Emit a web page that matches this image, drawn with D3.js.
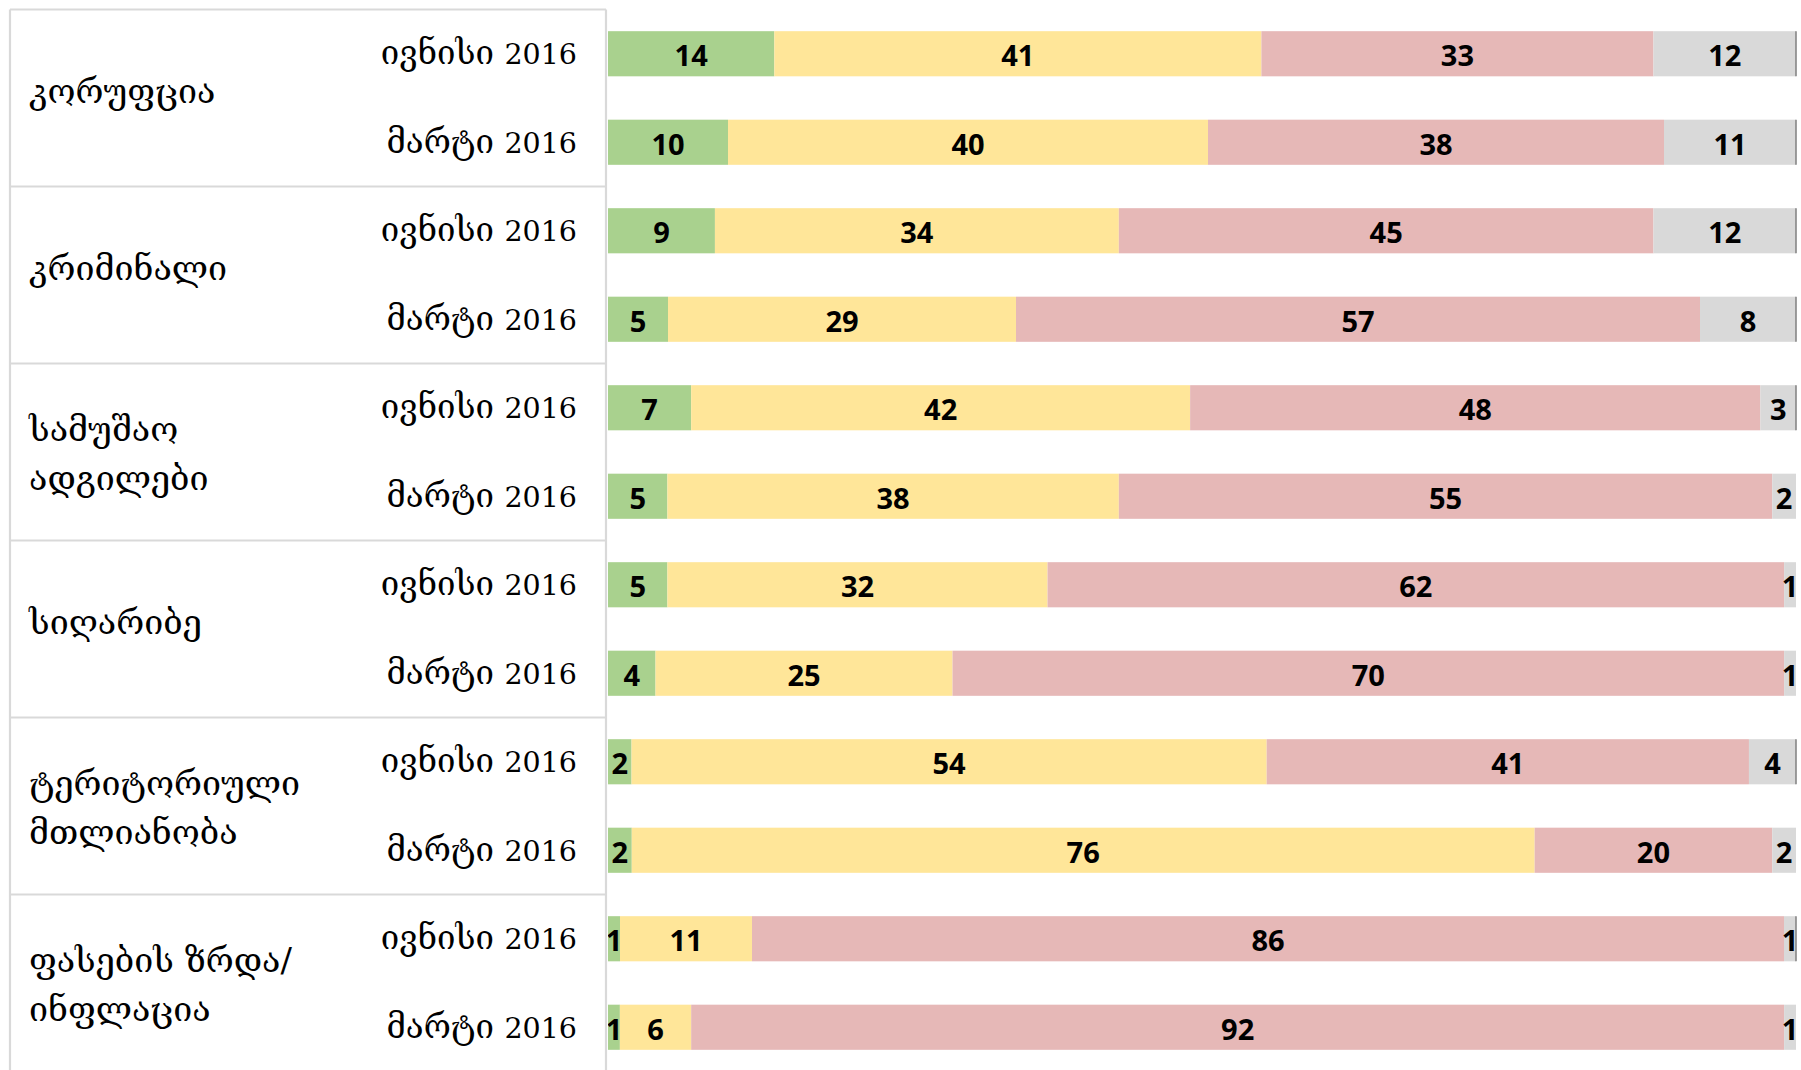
<!DOCTYPE html>
<html lang="ka">
<head>
<meta charset="utf-8">
<title>stacked bars</title>
<script src="https://cdn.jsdelivr.net/npm/d3@7"></script>
<style>
  body { margin: 0; background: #fff; }
  .geo { font-family: "DejaVu Serif", "DejaVu Sans", serif; font-size: 34px; fill: #000; }
  .geo.wave { font-size: 33px; }
  .geo .yr { font-size: 28.5px; }
  .val { font-family: "Open Sans", "Liberation Sans", sans-serif; font-weight: 700; font-size: 29px; fill: #000; }
</style>
</head>
<body>
<svg id="chart" width="1801" height="1070"></svg>
<script>
// topics (group rows), split into display lines
var topics = ["კორუფცია", "კრიმინალი", "სამუშაო ადგილები", "სიღარიბე", "ტერიტორიული მთლიანობა", "ფასების ზრდა/ ინფლაცია"];
var topicLines = [["კორუფცია"], ["კრიმინალი"], ["სამუშაო", "ადგილები"], ["სიღარიბე"], ["ტერიტორიული", "მთლიანობა"], ["ფასების ზრდა/", "ინფლაცია"]];
var waveMonths = ["ივნისი", "მარტი"];
var waveYear = "2016";

// one value per bar, top to bottom (juni, march for every topic)
var green  = [14, 10,  9,  5,  7,  5,  5,  4,  2,  2,  1,  1];
var yellow = [41, 40, 34, 29, 42, 38, 32, 25, 54, 76, 11,  6];
var pink   = [33, 38, 45, 57, 48, 55, 62, 70, 41, 20, 86, 92];
var grey   = [12, 11, 12,  8,  3,  2,  1,  1,  4,  2,  1,  1];
// bars where the dark end line shows
var endLine = [1, 1, 1, 1, 1, 0, 0, 0, 1, 0, 1, 0];

var keys = ["green", "yellow", "pink", "grey"];
var colors = {green: "#a9d18e", yellow: "#ffe699", pink: "#e6b8b7", grey: "#d9d9d9"};

var rows = green.map(function(d, i) {
  return {id: i, topic: topics[Math.floor(i / 2)], month: waveMonths[i % 2],
          green: green[i], yellow: yellow[i], pink: pink[i], grey: grey[i], end: endLine[i]};
});

var topY = 9.5, bottomY = 1071.5;
var tableLeft = 10, tableRight = 606;
var barLeft = 608, barRight = 1796;

var svg = d3.select("#chart");

var yGroup = d3.scaleBand().domain(topics).range([topY, bottomY]);
var y = d3.scaleBand().domain(rows.map(function(d){ return d.id; }))
  .range([topY, bottomY]).paddingInner(0.49).paddingOuter(0.245);
var x = d3.scaleLinear().domain([0, 1]).range([barLeft, barRight]);

// table lines
var tbl = svg.append("g").attr("stroke", "#d9d9d9").attr("stroke-width", 2.2).attr("fill", "none");
tbl.append("line").attr("x1", tableLeft).attr("x2", tableLeft).attr("y1", topY).attr("y2", 1075);
tbl.append("line").attr("x1", tableRight).attr("x2", tableRight).attr("y1", topY).attr("y2", 1075);
tbl.selectAll("line.h")
  .data(topics)
  .enter().append("line")
  .attr("class", "h")
  .attr("x1", tableLeft).attr("x2", tableRight)
  .attr("y1", function(d){ return yGroup(d); })
  .attr("y2", function(d){ return yGroup(d); });

// topic labels
topics.forEach(function(t, i) {
  var lines = topicLines[i];
  var c = yGroup(t) + yGroup.bandwidth() / 2;
  var base = lines.length == 1 ? [c + 5] : [c - 11, c + 38];
  var txt = svg.append("text").attr("class", "geo");
  lines.forEach(function(l, j) {
    txt.append("tspan").attr("x", 29).attr("y", base[j]).text(l);
  });
});

// wave labels
var wl = svg.selectAll("text.wave")
  .data(rows)
  .enter().append("text")
  .attr("class", "geo wave")
  .attr("text-anchor", "end")
  .attr("x", 577)
  .attr("y", function(d){ return y(d.id) + y.bandwidth() / 2 + 10.5; });
wl.append("tspan").text(function(d){ return d.month + " "; });
wl.append("tspan").attr("class", "yr").text(waveYear);

// stacked bars, each bar expanded to 100%
var series = d3.stack().keys(keys).offset(d3.stackOffsetExpand)(rows);

svg.append("defs").append("clipPath").attr("id", "plotclip")
  .append("rect").attr("x", barLeft).attr("y", 0).attr("width", barRight - barLeft).attr("height", 1070);

var plot = svg.append("g").attr("clip-path", "url(#plotclip)");

var layer = plot.selectAll("g.layer")
  .data(series)
  .enter().append("g")
  .attr("class", "layer")
  .attr("fill", function(d){ return colors[d.key]; });

layer.selectAll("rect")
  .data(function(d){ return d; })
  .enter().append("rect")
  .attr("x", function(d){ return x(d[0]); })
  .attr("width", function(d){ return x(d[1]) - x(d[0]); })
  .attr("y", function(d){ return y(d.data.id); })
  .attr("height", y.bandwidth());

series.forEach(function(s) {
  plot.selectAll("text.v-" + s.key)
    .data(s)
    .enter().append("text")
    .attr("class", "val v-" + s.key)
    .attr("text-anchor", "middle")
    .attr("x", function(d){ return (x(d[0]) + x(d[1])) / 2; })
    .attr("y", function(d){ return y(d.data.id) + y.bandwidth() / 2 + 12.5; })
    .text(function(d){ return d.data[s.key]; });
});

// dark end line
svg.selectAll("line.end")
  .data(rows.filter(function(d){ return d.end; }))
  .enter().append("line")
  .attr("class", "end")
  .attr("x1", barRight).attr("x2", barRight)
  .attr("y1", function(d){ return y(d.id); })
  .attr("y2", function(d){ return y(d.id) + y.bandwidth(); })
  .attr("stroke", "#7f7f7f").attr("stroke-width", 1.5);
</script>
</body>
</html>
